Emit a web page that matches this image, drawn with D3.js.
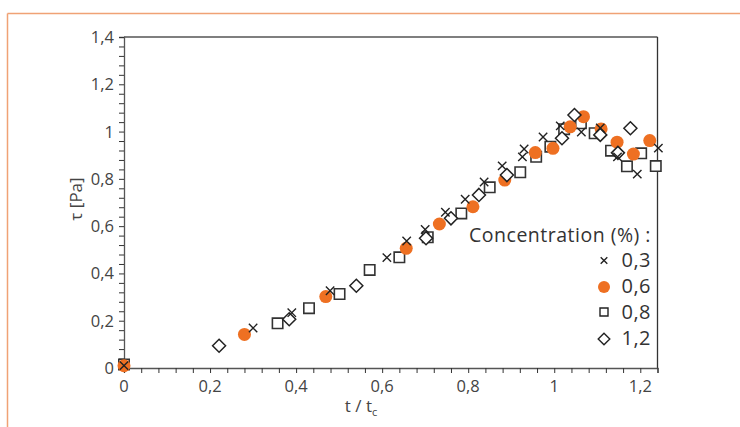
<!DOCTYPE html>
<html><head><meta charset="utf-8">
<script src="https://cdn.jsdelivr.net/npm/d3@7"></script>
<style>body{margin:0;background:#fff;} text{font-family:"Open Sans",sans-serif;}</style>
</head><body><svg id="c" width="740" height="427"></svg>
<script>
const xTickLabels = ["0","0,2","0,4","0,6","0,8","1","1,2"];
const yTickLabels = ["0","0,2","0,4","0,6","0,8","1","1,2","1,4"];
const seriesNames = ["0,3","0,6","0,8","1,2"];
const s03 = [[0,0.01],[0.30,0.169],[0.39,0.234],[0.479,0.327],[0.611,0.467],[0.657,0.537],[0.70,0.586],[0.747,0.659],[0.793,0.714],[0.837,0.787],[0.879,0.855],[0.926,0.893],[0.930,0.926],[0.974,0.977],[1.014,1.024],[1.063,0.998],[1.107,1.015],[1.147,0.893],[1.193,0.82],[1.242,0.93]];
const s06 = [[0,0.01],[0.28,0.142],[0.469,0.302],[0.656,0.506],[0.733,0.609],[0.811,0.682],[0.885,0.795],[0.956,0.911],[0.997,0.929],[1.037,1.02],[1.068,1.063],[1.109,1.011],[1.146,0.955],[1.184,0.905],[1.222,0.962]];
const s08 = [[0,0.015],[0.357,0.189],[0.43,0.253],[0.501,0.313],[0.571,0.415],[0.64,0.468],[0.706,0.553],[0.784,0.654],[0.85,0.764],[0.921,0.828],[0.958,0.893],[0.991,0.936],[1.023,1.01],[1.062,1.035],[1.094,0.993],[1.132,0.919],[1.169,0.853],[1.202,0.908],[1.236,0.854]];
const s12 = [[0.221,0.094],[0.384,0.206],[0.54,0.348],[0.702,0.549],[0.76,0.633],[0.825,0.732],[0.89,0.816],[1.018,0.972],[1.047,1.07],[1.107,0.986],[1.148,0.91],[1.177,1.014]];

const svg = d3.select("#c");
const orange = "#ee7022";
// orange page border
svg.append("line").attr("x1",7.5).attr("x2",740).attr("y1",13.5).attr("y2",13.5).attr("stroke","#f0a275").attr("stroke-width",1.5);
svg.append("line").attr("x1",7.5).attr("x2",7.5).attr("y1",13.5).attr("y2",427).attr("stroke","#f0a275").attr("stroke-width",1.5);

const x = d3.scaleLinear().domain([0,1.24]).range([124,657.5]);
const y = d3.scaleLinear().domain([0,1.4]).range([368,37]);

const g = svg.append("g");
// frame top & right
g.append("line").attr("x1",x(0)).attr("x2",x(1.24)).attr("y1",y(1.4)).attr("y2",y(1.4)).attr("stroke","#555").attr("stroke-width",1.3);
g.append("line").attr("x1",x(1.24)).attr("x2",x(1.24)).attr("y1",y(1.4)).attr("y2",y(0)).attr("stroke","#333").attr("stroke-width",1.3);

const xMinor = d3.range(0,1.2401,0.04);
const yMinor = d3.range(0,1.4001,0.04);
const xa = g.append("g").attr("transform",`translate(0,${y(0)})`)
  .call(d3.axisBottom(x).tickValues(xMinor).tickSize(5).tickFormat(""));
const ya = g.append("g").attr("transform",`translate(${x(0)},0)`)
  .call(d3.axisLeft(y).tickValues(yMinor).tickSize(5).tickFormat(""));
[xa,ya].forEach(a=>{a.select(".domain").attr("stroke","#555").attr("stroke-width",1.3);a.selectAll(".tick line").attr("stroke","#333");});

const xMajor = d3.range(0,7).map(i=>i*0.2);
g.selectAll(".xl").data(xMajor).enter().append("text")
  .attr("x",d=>x(d)).attr("y",392).attr("text-anchor","middle")
  .attr("font-size",16.5).attr("fill","#444").text((d,i)=>xTickLabels[i]);
const yMajor = d3.range(0,8).map(i=>i*0.2);
g.selectAll(".yl").data(yMajor).enter().append("text")
  .attr("x",114).attr("y",d=>y(d)+6).attr("text-anchor","end")
  .attr("font-size",16.5).attr("fill","#444").text((d,i)=>yTickLabels[i]);

// axis titles
svg.append("text").attr("transform","translate(82,199) rotate(-90)").attr("text-anchor","middle")
  .attr("font-size",17).attr("fill","#444").text("τ [Pa]");
const xt = svg.append("text").attr("x",361).attr("y",412).attr("text-anchor","middle").attr("font-size",17).attr("fill","#444");
xt.append("tspan").text("t / t");
xt.append("tspan").attr("font-size",11).attr("dy",4).text("c");

// markers
const crossPath = s => `M${-s},${-s}L${s},${s}M${-s},${s}L${s},${-s}`;
const sqPath = s => `M${-s},${-s}H${s}V${s}H${-s}Z`;
const diaPath = s => `M0,${-s}L${s},0L0,${s}L${-s},0Z`;
const pts = svg.append("g");
pts.selectAll(".sq").data(s08).enter().append("path").attr("transform",d=>`translate(${x(d[0])},${y(d[1])})`)
  .attr("d",sqPath(5.2)).attr("fill","#fff").attr("stroke","#333").attr("stroke-width",1.6);
pts.selectAll(".ci").data(s06).enter().append("circle").attr("cx",d=>x(d[0])).attr("cy",d=>y(d[1])).attr("r",6.5).attr("fill",orange);
pts.selectAll(".di").data(s12).enter().append("path").attr("transform",d=>`translate(${x(d[0])},${y(d[1])})`)
  .attr("d",diaPath(6.5)).attr("fill","#fff").attr("stroke","#222").attr("stroke-width",1.5);
pts.selectAll(".cr").data(s03).enter().append("path").attr("transform",d=>`translate(${x(d[0])},${y(d[1])})`)
  .attr("d",crossPath(4.2)).attr("fill","none").attr("stroke","#222").attr("stroke-width",1.4);

// legend
const lg = svg.append("g");
lg.append("text").attr("x",651).attr("y",242).attr("text-anchor","end").attr("font-size",19.5).attr("letter-spacing",0.5).attr("fill","#333").text("Concentration (%) :");
const ly = [267,293,319,345];
lg.selectAll(".lt").data(seriesNames).enter().append("text").attr("x",651).attr("y",(d,i)=>ly[i]).attr("text-anchor","end")
  .attr("font-size",20).attr("letter-spacing",0.5).attr("fill","#333").text(d=>d);
lg.append("path").attr("transform",`translate(604,${ly[0]-6.5})`).attr("d",crossPath(3.3)).attr("stroke","#222").attr("stroke-width",1.4);
lg.append("circle").attr("cx",604).attr("cy",ly[1]-6).attr("r",6).attr("fill",orange);
lg.append("path").attr("transform",`translate(604,${ly[2]-7})`).attr("d",sqPath(4)).attr("fill","#fff").attr("stroke","#222").attr("stroke-width",1.4);
lg.append("path").attr("transform",`translate(604,${ly[3]-6})`).attr("d",diaPath(5.8)).attr("fill","#fff").attr("stroke","#222").attr("stroke-width",1.4);
</script></body></html>
